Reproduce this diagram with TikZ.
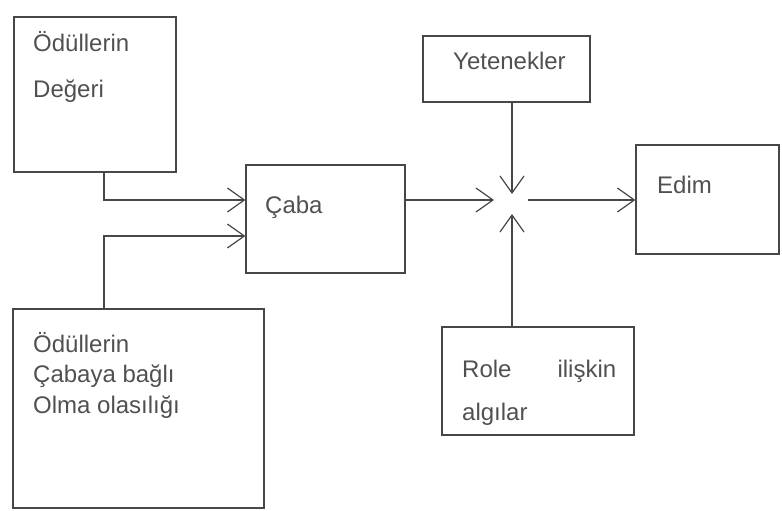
\documentclass[tikz,border=0pt]{standalone}
\usepackage{fontspec}
\setmainfont{Liberation Sans}
\usetikzlibrary{arrows.meta, calc, positioning}
\definecolor{linegray}{HTML}{474747}
\definecolor{textgray}{HTML}{505050}
\tikzset{
  box/.style={draw=linegray, line width=1.2pt, inner sep=0pt},
  conn/.style={draw=linegray, line width=1.2pt, -{Straight Barb[length=17pt, width=24pt]}},
  lbl/.style={text=textgray, inner sep=0pt, anchor=base west, align=left},
}

\begin{document}
\begin{tikzpicture}[x=1pt, y=-1pt]
\useasboundingbox (0,0) rectangle (782,511);
% Boxes
\node[box, minimum width=162pt, minimum height=155pt] (deger) at (95,94.5) {};
\node[box, minimum width=159pt, minimum height=108pt] (caba) at (325.5,219) {};
\node[box, minimum width=167pt, minimum height=66pt] (yetenek) at (506.5,69) {};
\node[box, minimum width=143pt, minimum height=109pt] (edim) at (707.5,199.5) {};
\node[box, minimum width=251pt, minimum height=199pt] (olasilik) at (138.5,408.5) {};
\node[box, minimum width=192pt, minimum height=108pt] (rol) at (538,381) {};
\coordinate (mid) at (512,200);

% Labels (base = last line)
\node[lbl, font=\fontsize{24}{46}\selectfont] (tdeger) at (33,97) {Ödüllerin\\Değeri};
\node[lbl, font=\fontsize{24}{30}\selectfont] (tcaba) at (265,213) {Çaba};
\node[lbl, font=\fontsize{24}{30}\selectfont] (tyetenek) at (453,70) {Yetenekler};
\node[lbl, font=\fontsize{24}{30}\selectfont] (tedim) at (657,193) {Edim};
\node[lbl, font=\fontsize{24}{30.5}\selectfont] (tolasilik) at (33,413) {Ödüllerin\\Çabaya bağlı\\Olma olasılığı};
\node[lbl, font=\fontsize{24}{43}\selectfont] (trol) at (462,420) {Role\hspace{46pt}ilişkin\\algılar};

% Connectors
\draw[conn] ([xshift=9pt]deger.south) |- ([yshift=19pt]caba.west);
\draw[conn] ([xshift=-34.5pt]olasilik.north) |- ([yshift=-17pt]caba.west);
\draw[conn] ([yshift=19pt]caba.east) -- ([xshift=-18pt]mid);
\draw[conn] (yetenek.south -| mid) -- ([yshift=6pt]mid);
\draw[conn] (rol.north -| mid) -- ([yshift=-14pt]mid);
\draw[conn] ([xshift=16pt]mid) -- (mid -| edim.west);
\end{tikzpicture}
\end{document}
